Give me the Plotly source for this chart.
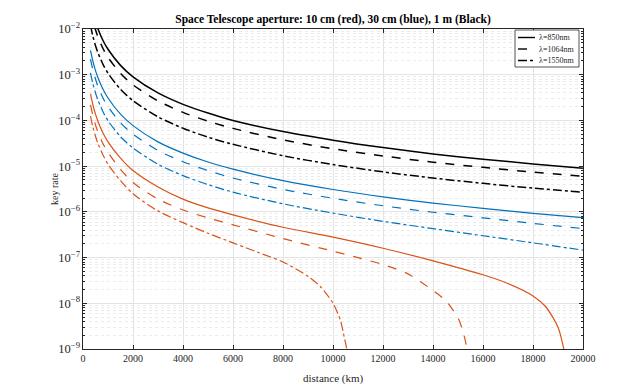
import plotly.graph_objects as go

# distances (km)
dist = [300, 400, 500, 600, 800, 1000, 1500, 2000, 3000, 4000, 5000, 6000,
        8000, 10000, 12000, 14000, 16000, 18000, 20000]

# 1 m aperture (black)
black_850 = [4.0e-2, 2.25e-2, 1.44e-2, 1.0e-2, 5.6e-3, 3.6e-3, 1.6e-3, 9.0e-4, 4.0e-4, 2.25e-4,
             1.45e-4, 1.0e-4, 5.7e-5, 3.7e-5, 2.55e-5, 1.85e-5, 1.42e-5, 1.12e-5, 9.0e-6]
black_1064 = [2.7e-2, 1.5e-2, 9.6e-3, 6.7e-3, 3.75e-3, 2.4e-3, 1.07e-3, 6.0e-4, 2.67e-4, 1.5e-4,
              9.6e-5, 6.7e-5, 3.75e-5, 2.4e-5, 1.67e-5, 1.22e-5, 9.4e-6, 7.4e-6, 6.0e-6]
black_1550 = [1.2e-2, 6.75e-3, 4.3e-3, 3.0e-3, 1.69e-3, 1.08e-3, 4.8e-4, 2.7e-4, 1.2e-4, 6.75e-5,
              4.3e-5, 3.0e-5, 1.69e-5, 1.08e-5, 7.5e-6, 5.5e-6, 4.2e-6, 3.3e-6, 2.7e-6]

# 30 cm aperture (blue)
blue_850 = [3.4e-3, 1.93e-3, 1.23e-3, 8.6e-4, 4.8e-4, 3.1e-4, 1.37e-4, 7.7e-5, 3.4e-5, 1.93e-5,
            1.23e-5, 8.6e-6, 4.8e-6, 3.08e-6, 2.13e-6, 1.56e-6, 1.19e-6, 9.3e-7, 7.5e-7]
blue_1064 = [2.2e-3, 1.25e-3, 8.0e-4, 5.5e-4, 3.1e-4, 2.0e-4, 8.9e-5, 5.0e-5, 2.2e-5, 1.25e-5,
             8.0e-6, 5.5e-6, 3.1e-6, 1.98e-6, 1.36e-6, 9.8e-7, 7.4e-7, 5.6e-7, 4.3e-7]
blue_1550 = [1.1e-3, 6.2e-4, 4.0e-4, 2.75e-4, 1.55e-4, 9.9e-5, 4.4e-5, 2.5e-5, 1.1e-5, 6.2e-6,
             3.95e-6, 2.7e-6, 1.5e-6, 9.4e-7, 6.2e-7, 4.3e-7, 3.0e-7, 2.1e-7, 1.45e-7]

# 10 cm aperture (red) - each has its own distance grid (curves end at the cutoff)
red_850_dist = [300, 400, 500, 600, 800, 1000, 1500, 2000, 3000, 4000, 5000, 6000, 8000, 10000,
                12000, 14000, 16000, 17000, 18000, 18500, 19000, 19200, 19300]
red_850 = [3.8e-4, 2.15e-4, 1.37e-4, 9.5e-5, 5.3e-5, 3.4e-5, 1.5e-5, 8.0e-6, 3.5e-6, 1.9e-6,
           1.22e-6, 8.6e-7, 4.6e-7, 2.8e-7, 1.6e-7, 8.5e-8, 4.2e-8, 2.7e-8, 1.45e-8, 8.5e-9,
           3.0e-9, 1.2e-9, 6e-10]
red_1064_dist = [300, 400, 500, 600, 800, 1000, 1500, 2000, 3000, 4000, 5000, 6000, 8000, 10000,
                 11000, 12000, 13000, 14000, 14500, 15000, 15200, 15350, 15450]
red_1064 = [2.2e-4, 1.25e-4, 8.0e-5, 5.5e-5, 3.1e-5, 2.0e-5, 8.5e-6, 4.4e-6, 1.9e-6, 1.1e-6,
            7.4e-7, 5.2e-7, 2.6e-7, 1.38e-7, 1.0e-7, 7.0e-8, 4.4e-8, 1.9e-8, 1.15e-8, 4.8e-9,
            2.4e-9, 1.1e-9, 6e-10]
red_1550_dist = [300, 400, 500, 600, 800, 1000, 1500, 2000, 3000, 4000, 5000, 6000, 7000, 8000,
                 9000, 9500, 10000, 10300, 10450, 10550, 10620]
red_1550 = [1.25e-4, 7.0e-5, 4.5e-5, 3.1e-5, 1.75e-5, 1.1e-5, 4.8e-6, 2.5e-6, 1.05e-6, 5.8e-7,
            3.4e-7, 2.1e-7, 1.3e-7, 8.0e-8, 3.9e-8, 2.3e-8, 1.0e-8, 4.2e-9, 1.8e-9, 1.0e-9, 5e-10]

x_ticks = [0, 2000, 4000, 6000, 8000, 10000, 12000, 14000, 16000, 18000, 20000]
legend_labels = ["λ=850nm", "λ=1064nm", "λ=1550nm"]
title = "<b>Space Telescope aperture: 10 cm (red), 30 cm (blue), 1 m (Black)</b>"
x_title = "distance (km)"
y_title = "key rate"

BLACK = "#000000"
BLUE = "#0072BD"
RED = "#D95319"
dashes = ["solid", "dash", "dashdot"]
SERIF = "Liberation Serif, Times New Roman, serif"

# page has an 8px body margin; figure sized to stay inside the window
OFF = 8
W, H = 643 - 2 * OFF, 392 - 2 * OFF
# plot area in window pixels: x 83..583, y 29..349
L, T = 83 - OFF, 29 - OFF
R = W - (583 - OFF)
B = H - (349 - OFF)

fig = go.Figure()
series = [
    (dist, black_850, BLACK, 0), (dist, black_1064, BLACK, 1), (dist, black_1550, BLACK, 2),
    (dist, blue_850, BLUE, 0), (dist, blue_1064, BLUE, 1), (dist, blue_1550, BLUE, 2),
    (red_850_dist, red_850, RED, 0), (red_1064_dist, red_1064, RED, 1), (red_1550_dist, red_1550, RED, 2),
]
for xs, ys, col, k in series:
    fig.add_trace(go.Scatter(
        x=xs, y=ys, mode="lines",
        line=dict(color=col, width=1.5 if col == BLACK else 1.2, dash=dashes[k], shape="spline", smoothing=0.8),
        showlegend=False, hoverinfo="skip"))

# window-pixel -> paper coordinates
px = lambda v: (v - OFF - L) / (W - L - R)
py = lambda v: 1 - (v - OFF - T) / (H - T - B)

# manual compact legend (box in top-right corner of the axes)
fig.add_shape(type="rect", xref="paper", yref="paper",
              x0=px(515), x1=px(579), y0=py(67), y1=py(30),
              line=dict(color="#262626", width=0.8), fillcolor="white", layer="above")
for k, lab in enumerate(legend_labels):
    yy = 37.5 + 11.5 * k
    fig.add_shape(type="line", xref="paper", yref="paper",
                  x0=px(518), x1=px(535), y0=py(yy), y1=py(yy),
                  line=dict(color=BLACK, width=1.4, dash=dashes[k]), layer="above")
    fig.add_annotation(xref="paper", yref="paper", x=px(537), y=py(yy), xanchor="left", yanchor="middle",
                       text=lab, showarrow=False,
                       font=dict(family=SERIF, size=8, color="#262626"))

# axis titles
fig.add_annotation(xref="paper", yref="paper", x=px(333), y=py(378), xanchor="center", yanchor="middle",
                   text=x_title, showarrow=False, font=dict(family=SERIF, size=11, color="#262626"))
fig.add_annotation(xref="paper", yref="paper", x=px(54), y=py(189), xanchor="center", yanchor="middle",
                   text=y_title, textangle=-90, showarrow=False,
                   font=dict(family=SERIF, size=10, color="#262626"))

fig.update_layout(
    width=W, height=H,
    margin=dict(l=L, r=R, t=T, b=B),
    paper_bgcolor="white", plot_bgcolor="white",
    font=dict(family=SERIF, size=10, color="#262626"),
    title=dict(text=title, x=(L + W - R) / 2 / W, xanchor="center", y=1 - (23 - OFF) / H, yanchor="bottom",
               font=dict(family=SERIF, size=11.5, color="#000000")),
    showlegend=False,
)
fig.update_xaxes(
    range=[0, 20000], tickvals=x_ticks, ticktext=[str(v) for v in x_ticks], automargin=False,
    showline=True, linecolor="#262626", linewidth=0.8, mirror="allticks",
    ticks="inside", ticklen=4, tickcolor="#262626",
    showgrid=True, gridcolor="#e3e3e3", gridwidth=0.8, zeroline=False,
    tickfont=dict(family=SERIF, size=10, color="#262626"),
)
fig.update_yaxes(
    type="log", range=[-9, -2], dtick=1, exponentformat="power", automargin=False,
    showline=True, linecolor="#262626", linewidth=0.8, mirror="allticks",
    ticks="inside", ticklen=4, tickcolor="#262626",
    showgrid=True, gridcolor="#e3e3e3", gridwidth=0.8, zeroline=False,
    tickfont=dict(family=SERIF, size=10, color="#262626"),
    minor=dict(ticks="inside", ticklen=2, tickcolor="#262626", showgrid=True,
               gridcolor="#ebebeb", griddash="dot", gridwidth=0.8),
)

fig.write_html("out.html")
